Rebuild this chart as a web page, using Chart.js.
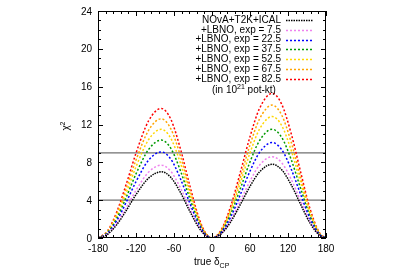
<!DOCTYPE html>
<html>
<head>
<meta charset="utf-8">
<script src="https://cdn.jsdelivr.net/npm/chart.js@4.4.0/dist/chart.umd.min.js"></script>
<style>html,body{margin:0;padding:0;background:#fff}</style>
</head>
<body>
<canvas id="chi2Chart" width="400" height="279"></canvas>
<script>
// true delta_CP grid (degrees)
const deltaCP = [-180,-165,-150,-135,-120,-100,-80,-65,-50,-35,-20,-10,0,15,30,45,60,75,95,110,125,140,155,170,180];

// chi^2 values
const chiBase  = [0,0.38,1.44,2.95,4.59,6.34,7.00,6.41,4.84,2.82,1.02,0.27,0,0.47,1.76,3.57,5.46,6.98,7.80,7.22,5.63,3.55,1.55,0.27,0];
const chiExp7  = [0,0.42,1.59,3.25,5.04,6.97,7.70,7.05,5.32,3.10,1.12,0.29,0,0.52,1.94,3.94,6.02,7.70,8.60,7.96,6.21,3.91,1.71,0.29,0];
const chiExp22 = [0,0.50,1.87,3.84,5.96,8.24,9.10,8.34,6.29,3.67,1.33,0.35,0,0.61,2.28,4.63,7.07,9.04,10.10,9.34,7.29,4.60,2.01,0.34,0];
const chiExp37 = [0,0.56,2.13,4.37,6.78,9.37,10.35,9.48,7.15,4.17,1.51,0.39,0,0.69,2.60,5.27,8.05,10.29,11.50,10.64,8.30,5.23,2.29,0.39,0];
const chiExp52 = [0,0.63,2.37,4.85,7.53,10.41,11.50,10.53,7.95,4.63,1.68,0.44,0,0.77,2.90,5.89,9.00,11.50,12.85,11.89,9.28,5.85,2.56,0.44,0];
const chiExp67 = [0,0.69,2.60,5.32,8.25,11.40,12.60,11.54,8.71,5.08,1.84,0.48,0,0.84,3.18,6.43,9.84,12.57,14.05,13.00,10.14,6.39,2.80,0.48,0];
const chiExp82 = [0,0.75,2.82,5.78,8.97,12.40,13.70,12.55,9.47,5.52,2.00,0.52,0,0.92,3.46,7.01,10.71,13.69,15.30,14.15,11.05,6.96,3.04,0.52,0];

const seriesLabels = ["NOvA+T2K+ICAL","+LBNO, exp = 7.5","+LBNO, exp = 22.5","+LBNO, exp = 37.5","+LBNO, exp = 52.5","+LBNO, exp = 67.5","+LBNO, exp = 82.5"];
const seriesValues = [chiBase, chiExp7, chiExp22, chiExp37, chiExp52, chiExp67, chiExp82];
const seriesColors = ["#000000","#ee82ee","#0000ff","#009a00","#ffd700","#ffa500","#ff0000"];

const refLevels = [4, 9];
const xTickLabels = [-180,-120,-60,0,60,120,180];
const yTickLabels = [0,4,8,12,16,20,24];

const FONT = "'Liberation Sans', Arial, sans-serif";

const datasets = seriesValues.map((vals, i) => ({
    label: seriesLabels[i],
    data: deltaCP.map((d, j) => ({ x: d, y: vals[j] })),
    borderColor: seriesColors[i],
    borderWidth: 1.5,
    borderDash: i === 0 ? [1.5, 1] : [2, 2],
    pointRadius: 0,
    fill: false,
    cubicInterpolationMode: "monotone",
    order: 1
}));

refLevels.forEach(level => {
    datasets.push({
        label: "level " + level,
        data: [{ x: -180, y: level }, { x: 180, y: level }],
        borderColor: "#707070",
        borderWidth: 1.3,
        pointRadius: 0,
        fill: false,
        order: 5
    });
});

const framePlugin = {
    id: "gnuplotFrame",
    afterDraw(chart) {
        const ctx = chart.ctx;
        const area = chart.chartArea;
        const xs = chart.scales.x;
        const ys = chart.scales.y;
        ctx.save();

        // border
        ctx.strokeStyle = "#000";
        ctx.lineWidth = 1;
        ctx.strokeRect(area.left + 0.5, area.top + 0.5, area.right - area.left - 1, area.bottom - area.top - 1);

        // inward ticks
        ctx.beginPath();
        for (let v = -180; v <= 180; v += 12) {
            const px = Math.round(xs.getPixelForValue(v)) + 0.5;
            const len = v % 60 === 0 ? 5 : 3;
            ctx.moveTo(px, area.bottom); ctx.lineTo(px, area.bottom - len);
            ctx.moveTo(px, area.top); ctx.lineTo(px, area.top + len);
        }
        for (let v = 0; v <= 24; v += 1) {
            const py = Math.round(ys.getPixelForValue(v)) + 0.5;
            const len = v % 4 === 0 ? 5 : 3;
            ctx.moveTo(area.left, py); ctx.lineTo(area.left + len, py);
            ctx.moveTo(area.right, py); ctx.lineTo(area.right - len, py);
        }
        ctx.stroke();

        // tick labels
        ctx.fillStyle = "#000";
        ctx.font = "10px " + FONT;
        ctx.textAlign = "center";
        ctx.textBaseline = "alphabetic";
        xTickLabels.forEach(v => ctx.fillText(String(v), xs.getPixelForValue(v), 252));
        ctx.textAlign = "right";
        yTickLabels.forEach(v => ctx.fillText(String(v), 92, ys.getPixelForValue(v) + 3.5));

        // x title: true delta_CP
        ctx.textAlign = "left";
        let tx = 194;
        ctx.fillText("true \u03b4", tx, 265);
        tx += ctx.measureText("true \u03b4").width;
        ctx.font = "7px " + FONT;
        ctx.fillText("CP", tx, 268);

        // y title: chi^2 rotated
        ctx.save();
        ctx.translate(69, 126);
        ctx.rotate(-Math.PI / 2);
        ctx.font = "10px " + FONT;
        ctx.textAlign = "left";
        const cw = ctx.measureText("\u03c7").width;
        ctx.fillText("\u03c7", -(cw + 4) / 2, 0);
        ctx.font = "7px " + FONT;
        ctx.fillText("2", -(cw + 4) / 2 + cw, -4);
        ctx.restore();

        // legend
        ctx.font = "10px " + FONT;
        ctx.textAlign = "right";
        ctx.textBaseline = "middle";
        chart.data.datasets.slice(0, seriesLabels.length).forEach((ds, i) => {
            const y = 20 + i * 9.8;
            ctx.fillStyle = "#000";
            ctx.fillText(ds.label, 281, y);
            ctx.strokeStyle = ds.borderColor;
            ctx.lineWidth = 1.5;
            ctx.setLineDash(ds.borderDash);
            ctx.beginPath();
            ctx.moveTo(286, Math.round(y) + 0.5);
            ctx.lineTo(313, Math.round(y) + 0.5);
            ctx.stroke();
        });
        ctx.setLineDash([]);

        // unit note
        ctx.fillStyle = "#000";
        ctx.textAlign = "left";
        ctx.textBaseline = "alphabetic";
        let nx = 212;
        const ny = 93;
        ctx.fillText("(in 10", nx, ny);
        nx += ctx.measureText("(in 10").width;
        ctx.font = "7px " + FONT;
        ctx.fillText("21", nx, ny - 4);
        nx += ctx.measureText("21").width;
        ctx.font = "10px " + FONT;
        ctx.fillText(" pot-kt)", nx, ny);

        ctx.restore();
    }
};

new Chart(document.getElementById("chi2Chart").getContext("2d"), {
    type: "line",
    data: { datasets: datasets },
    options: {
        responsive: false,
        animation: false,
        layout: { padding: { left: 0, top: 11, right: 74, bottom: 0 } },
        plugins: { legend: { display: false }, tooltip: { enabled: false } },
        scales: {
            x: {
                type: "linear", min: -180, max: 180,
                grid: { display: false }, border: { display: false },
                ticks: { display: false, stepSize: 60 },
                afterFit: s => { s.height = 41; }
            },
            y: {
                min: 0, max: 24,
                grid: { display: false }, border: { display: false },
                ticks: { display: false, stepSize: 4 },
                afterFit: s => { s.width = 98; }
            }
        }
    },
    plugins: [framePlugin]
});
</script>
</body>
</html>
